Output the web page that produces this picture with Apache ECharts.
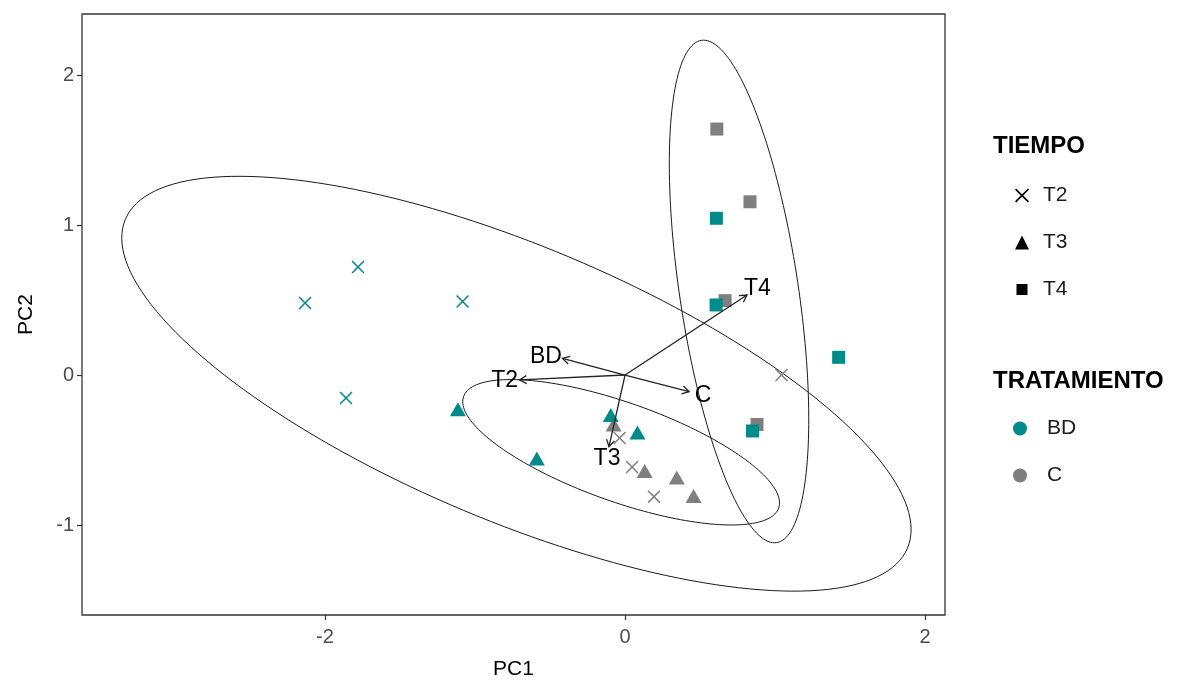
<!DOCTYPE html>
<html>
<head>
<meta charset="utf-8">
<script src="https://cdn.jsdelivr.net/npm/echarts@6/dist/echarts.min.js"></script>
<style>
  html, body { margin: 0; padding: 0; background: #fff; }
  #main { width: 1187px; height: 683px; }
</style>
</head>
<body>
<div id="main"></div>
<script>
// puntos del PCA [PC1, PC2], por tratamiento y tiempo
const bdT2 = [[-2.133, 0.48], [-1.78, 0.72], [-1.083, 0.49], [-1.86, -0.153]]
const cT2 = [[-0.036, -0.42], [0.047, -0.613], [0.193, -0.811], [1.043, 0.0]]
const bdT3 = [[-1.114, -0.229], [-0.588, -0.556], [-0.095, -0.267], [0.083, -0.384]]
const cT3 = [[-0.076, -0.33], [0.131, -0.64], [0.345, -0.684], [0.457, -0.807]]
const bdT4 = [[0.609, 1.045], [0.607, 0.467], [1.424, 0.118], [0.85, -0.373]]
const cT4 = [[0.612, 1.64], [0.833, 1.155], [0.667, 0.496], [0.88, -0.33]]

// vectores (flechas) y posicion de sus etiquetas
const loadingNames = ['BD', 'T2', 'C', 'T3', 'T4']
const loadingEnds = [[-0.417, 0.111], [-0.703, -0.033], [0.427, -0.111], [-0.107, -0.478], [0.813, 0.533]]
const loadingLabelPos = [[-0.527, 0.12], [-0.803, -0.04], [0.52, -0.14], [-0.12, -0.56], [0.883, 0.573]]

// elipses por TIEMPO: [centro x, centro y, semieje mayor, semieje menor, angulo en grados]
const ellipses = [
  [-0.724, -0.058, 2.828, 0.915, -22.8],
  [-0.026, -0.515, 1.114, 0.330, -19.5],
  [0.76, 0.557, 1.693, 0.396, -81.5]
]

const xTicks = [-2, 0, 2]
const yTicks = [-1, 0, 1, 2]

const teal = '#008B8B'
const grey = '#7F7F7F'
const fontFam = '"Liberation Sans", Arial, sans-serif'
const crossPath = 'path://M0,1L1,0L12,11L11,12Z M11,0L12,1L1,12L0,11Z'
const smallSquare = 'path://M0,0M14,14M1.5,1.5L12.5,1.5L12.5,12.5L1.5,12.5Z'

const chart = echarts.init(document.getElementById('main'))

// dibuja una elipse a partir de sus parametros, usando las escalas de los ejes
function renderEllipse (params, api) {
  const cx = api.value(0)
  const cy = api.value(1)
  const a = api.value(2)
  const b = api.value(3)
  const th = api.value(4) * Math.PI / 180
  const pts = []
  for (let i = 0; i <= 180; i++) {
    const t = i / 180 * Math.PI * 2
    const dx = a * Math.cos(t)
    const dy = b * Math.sin(t)
    pts.push(api.coord([cx + dx * Math.cos(th) - dy * Math.sin(th), cy + dx * Math.sin(th) + dy * Math.cos(th)]))
  }
  return {
    type: 'polyline',
    shape: { points: pts },
    style: { fill: null, stroke: '#1a1a1a', lineWidth: 1 },
    silent: true
  }
}

// flecha abierta desde el origen
function renderArrow (params, api) {
  const p0 = api.coord([0, 0])
  const p1 = api.coord([api.value(0), api.value(1)])
  const ang = Math.atan2(p1[1] - p0[1], p1[0] - p0[0])
  const len = 8
  const sp = Math.PI / 6
  const h1 = [p1[0] - len * Math.cos(ang - sp), p1[1] - len * Math.sin(ang - sp)]
  const h2 = [p1[0] - len * Math.cos(ang + sp), p1[1] - len * Math.sin(ang + sp)]
  const st = { stroke: '#222', lineWidth: 1.3, fill: null }
  return {
    type: 'group',
    silent: true,
    children: [
      { type: 'line', shape: { x1: p0[0], y1: p0[1], x2: p1[0], y2: p1[1] }, style: st },
      { type: 'polyline', shape: { points: [h1, p1, h2] }, style: st }
    ]
  }
}

function renderLabel (params, api) {
  const p = api.coord([api.value(0), api.value(1)])
  return {
    type: 'text',
    x: p[0],
    y: p[1],
    silent: true,
    style: {
      text: loadingNames[params.dataIndex],
      fontSize: 23,
      fontFamily: fontFam,
      fill: '#000',
      align: 'center',
      verticalAlign: 'middle'
    }
  }
}

const option = {
  backgroundColor: '#fff',
  animation: false,
  textStyle: { fontFamily: fontFam },
  title: [
    { text: 'TIEMPO', left: 993, top: 134, padding: 0,
      textStyle: { fontSize: 24, fontWeight: 'bold', color: '#000', fontFamily: fontFam } },
    { text: 'TRATAMIENTO', left: 993, top: 369, padding: 0,
      textStyle: { fontSize: 24, fontWeight: 'bold', color: '#000', fontFamily: fontFam } }
  ],
  legend: [
    {
      orient: 'vertical',
      left: 1010,
      top: 180,
      itemWidth: 14,
      itemHeight: 14,
      itemGap: 26,
      selectedMode: false,
      textStyle: { fontSize: 21, color: '#1a1a1a', padding: [0, 0, 0, 9], fontFamily: fontFam },
      data: [
        { name: 'T2', icon: crossPath, itemStyle: { color: '#000' } },
        { name: 'T3', icon: 'triangle', itemStyle: { color: '#000' } },
        { name: 'T4', icon: smallSquare, itemStyle: { color: '#000' } }
      ]
    },
    {
      orient: 'vertical',
      left: 1008,
      top: 413,
      itemWidth: 14,
      itemHeight: 14,
      itemGap: 26,
      selectedMode: false,
      textStyle: { fontSize: 21, color: '#1a1a1a', padding: [0, 0, 0, 15], fontFamily: fontFam },
      data: [
        { name: 'BD', icon: 'circle', itemStyle: { color: teal } },
        { name: 'C', icon: 'circle', itemStyle: { color: grey } }
      ]
    }
  ],
  grid: {
    left: 82,
    right: 242,
    top: 14,
    bottom: 68,
    outerBoundsMode: 'none',
    show: true,
    borderColor: '#333',
    borderWidth: 1.3,
    backgroundColor: '#fff'
  },
  xAxis: {
    type: 'value',
    min: -3.62,
    max: 2.133,
    name: 'PC1',
    nameLocation: 'middle',
    nameGap: 44,
    nameTextStyle: { fontSize: 21, color: '#000', fontFamily: fontFam },
    splitLine: { show: false },
    axisLine: { show: false, onZero: false },
    axisTick: { show: true, length: 5, customValues: xTicks, lineStyle: { color: '#333', width: 1.2 } },
    axisLabel: { customValues: xTicks, fontSize: 20, color: '#4D4D4D', margin: 12 }
  },
  yAxis: {
    type: 'value',
    min: -1.6,
    max: 2.407,
    name: 'PC2',
    nameLocation: 'middle',
    nameGap: 45,
    nameRotate: 90,
    nameTextStyle: { fontSize: 21, color: '#000', fontFamily: fontFam },
    splitLine: { show: false },
    axisLine: { show: false, onZero: false },
    axisTick: { show: true, length: 5, customValues: yTicks, lineStyle: { color: '#333', width: 1.2 } },
    axisLabel: { customValues: yTicks, fontSize: 20, color: '#4D4D4D', margin: 8 }
  },
  series: [
    { name: 'elipses', type: 'custom', renderItem: renderEllipse, data: ellipses, z: 1 },
    { name: 'C-T2', type: 'scatter', data: cT2, symbol: crossPath, symbolSize: 13, itemStyle: { color: grey, opacity: 1 }, z: 2 },
    { name: 'C-T3', type: 'scatter', data: cT3, symbol: 'triangle', symbolSize: [16, 14], itemStyle: { color: grey, opacity: 1 }, z: 2 },
    { name: 'C-T4', type: 'scatter', data: cT4, symbol: 'rect', symbolSize: 13, itemStyle: { color: grey, opacity: 1 }, z: 2 },
    { name: 'BD-T2', type: 'scatter', data: bdT2, symbol: crossPath, symbolSize: 13, itemStyle: { color: teal, opacity: 1 }, z: 3 },
    { name: 'BD-T3', type: 'scatter', data: bdT3, symbol: 'triangle', symbolSize: [16, 14], itemStyle: { color: teal, opacity: 1 }, z: 3 },
    { name: 'BD-T4', type: 'scatter', data: bdT4, symbol: 'rect', symbolSize: 13, itemStyle: { color: teal, opacity: 1 }, z: 3 },
    { name: 'flechas', type: 'custom', renderItem: renderArrow, data: loadingEnds, z: 4 },
    { name: 'etiquetas', type: 'custom', renderItem: renderLabel, data: loadingLabelPos, z: 5 },
    // series vacias solo para las leyendas
    { name: 'T2', type: 'scatter', data: [], symbol: crossPath, itemStyle: { color: '#000', opacity: 1 } },
    { name: 'T3', type: 'scatter', data: [], symbol: 'triangle', itemStyle: { color: '#000', opacity: 1 } },
    { name: 'T4', type: 'scatter', data: [], symbol: 'rect', itemStyle: { color: '#000', opacity: 1 } },
    { name: 'BD', type: 'scatter', data: [], symbol: 'circle', itemStyle: { color: teal, opacity: 1 } },
    { name: 'C', type: 'scatter', data: [], symbol: 'circle', itemStyle: { color: grey, opacity: 1 } }
  ]
}

chart.setOption(option)
</script>
</body>
</html>
